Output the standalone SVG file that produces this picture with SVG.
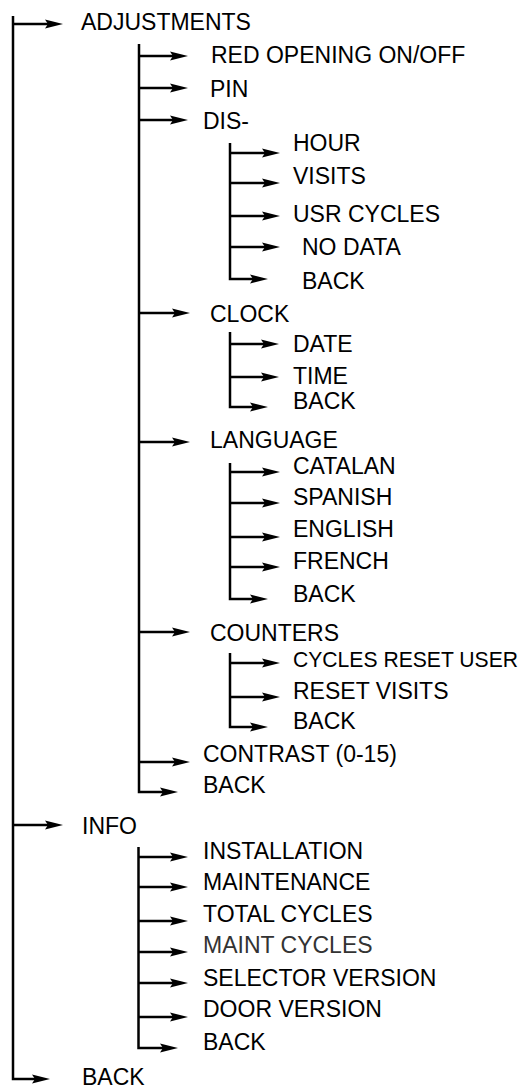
<svg xmlns="http://www.w3.org/2000/svg" width="525" height="1090" viewBox="0 0 525 1090">
<style>
text{font-family:"Liberation Sans",Arial,Helvetica,sans-serif;font-size:23px;fill:#000}
.c{fill:none;stroke:#000;stroke-width:2.5;stroke-linejoin:miter;marker-end:url(#ah)}
</style>
<defs>
<marker id="ah" markerUnits="userSpaceOnUse" viewBox="0 0 18 10" refX="8" refY="5" markerWidth="18" markerHeight="10" orient="auto">
<path d="M0,0.5 L18,5 L0,9.5 L3,5 z" fill="#000"/>
</marker>
</defs>
<rect width="525" height="1090" fill="#fff"/>
<g id="connectors">
<path class="c" d="M13,16 V1079 H40"/>
<path class="c" d="M13,24 H53"/>
<path class="c" d="M13,825 H53"/>
<path class="c" d="M139,44 V792 H168"/>
<path class="c" d="M139,56 H178"/>
<path class="c" d="M139,88 H178"/>
<path class="c" d="M139,120 H178"/>
<path class="c" d="M139,313 H180"/>
<path class="c" d="M139,442 H180"/>
<path class="c" d="M139,632 H180"/>
<path class="c" d="M139,762 H180"/>
<path class="c" d="M230,143 V279 H258"/>
<path class="c" d="M230,153 H270"/>
<path class="c" d="M230,183 H270"/>
<path class="c" d="M230,216 H270"/>
<path class="c" d="M230,247 H270"/>
<path class="c" d="M230,332 V407 H258"/>
<path class="c" d="M230,344 H269"/>
<path class="c" d="M230,377 H269"/>
<path class="c" d="M230,463 V599 H258"/>
<path class="c" d="M230,472 H270"/>
<path class="c" d="M230,503 H270"/>
<path class="c" d="M230,537 H270"/>
<path class="c" d="M230,567 H270"/>
<path class="c" d="M230,653 V727 H258"/>
<path class="c" d="M230,663 H270"/>
<path class="c" d="M230,697 H270"/>
<path class="c" d="M138.5,847 V1048 H168"/>
<path class="c" d="M138.5,857 H178"/>
<path class="c" d="M138.5,887 H178"/>
<path class="c" d="M138.5,921 H178"/>
<path class="c" d="M138.5,952 H178"/>
<path class="c" d="M138.5,983 H178"/>
<path class="c" d="M138.5,1017 H178"/>
</g>
<g id="n-adjustments"><text x="81" y="29.5">ADJUSTMENTS</text></g>
<g id="n-red"><text x="211" y="63">RED OPENING ON/OFF</text></g>
<g id="n-pin"><text x="210" y="97">PIN</text></g>
<g id="n-dis"><text x="203" y="129">DIS-</text></g>
<g id="n-hour"><text x="293" y="150.5">HOUR</text></g>
<g id="n-visits"><text x="293" y="183.5">VISITS</text></g>
<g id="n-usrcycles"><text x="293" y="222">USR CYCLES</text></g>
<g id="n-nodata"><text x="302" y="255">NO DATA</text></g>
<g id="n-dis-back"><text x="302" y="289">BACK</text></g>
<g id="n-clock"><text x="210" y="322">CLOCK</text></g>
<g id="n-date"><text x="293" y="352">DATE</text></g>
<g id="n-time"><text x="293" y="384">TIME</text></g>
<g id="n-clock-back"><text x="293" y="409">BACK</text></g>
<g id="n-language"><text x="210" y="448">LANGUAGE</text></g>
<g id="n-catalan"><text x="293" y="473.5">CATALAN</text></g>
<g id="n-spanish"><text x="293" y="505">SPANISH</text></g>
<g id="n-english"><text x="293" y="537">ENGLISH</text></g>
<g id="n-french"><text x="293" y="568.5">FRENCH</text></g>
<g id="n-language-back"><text x="293" y="601.5">BACK</text></g>
<g id="n-counters"><text x="210" y="640.5">COUNTERS</text></g>
<g id="n-cyclesreset"><text x="293" y="667" style="font-size:21.5px" textLength="225" lengthAdjust="spacingAndGlyphs">CYCLES RESET USER</text></g>
<g id="n-resetvisits"><text x="293" y="698.5">RESET VISITS</text></g>
<g id="n-counters-back"><text x="293" y="728.5">BACK</text></g>
<g id="n-contrast"><text x="203" y="762">CONTRAST (0-15)</text></g>
<g id="n-adj-back"><text x="203" y="793">BACK</text></g>
<g id="n-info"><text x="82" y="834">INFO</text></g>
<g id="n-installation"><text x="203" y="858.5">INSTALLATION</text></g>
<g id="n-maintenance"><text x="203" y="890">MAINTENANCE</text></g>
<g id="n-totalcycles"><text x="203" y="921.5">TOTAL CYCLES</text></g>
<g id="n-maintcycles"><text x="203" y="953" style="fill:#333">MAINT CYCLES</text></g>
<g id="n-selector"><text x="203" y="986">SELECTOR VERSION</text></g>
<g id="n-door"><text x="203" y="1017">DOOR VERSION</text></g>
<g id="n-info-back"><text x="203" y="1050">BACK</text></g>
<g id="n-back"><text x="82" y="1085">BACK</text></g>
</svg>
